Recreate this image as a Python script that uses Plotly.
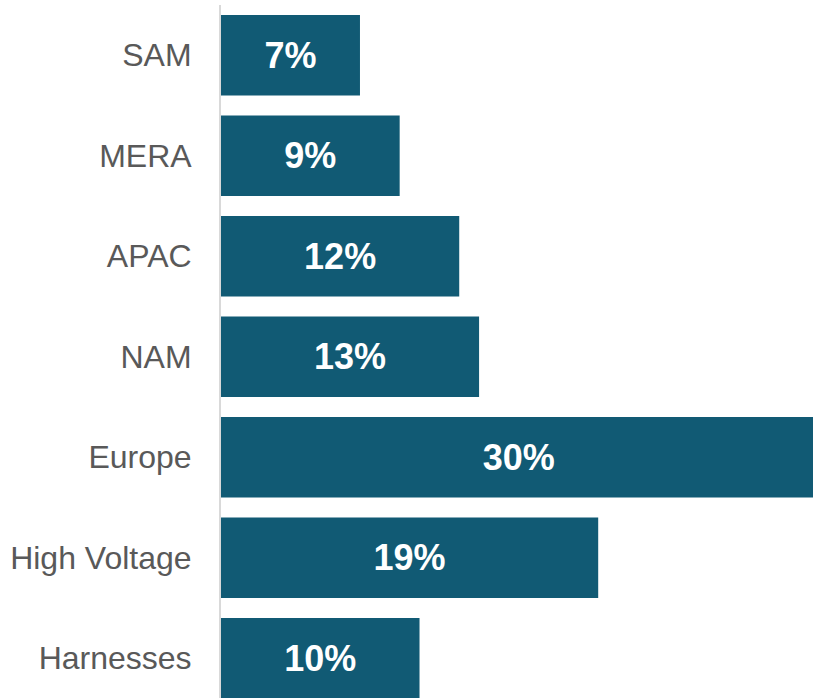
import plotly.graph_objects as go

categories = ["SAM", "MERA", "APAC", "NAM", "Europe", "High Voltage", "Harnesses"]
values = [7, 9, 12, 13, 30, 19, 10]
labels = [f"{v}%" for v in values]

fig = go.Figure(go.Bar(
    x=values, y=categories, orientation="h",
    marker=dict(color="#115A74", line=dict(width=0)),
    text=labels, textposition="inside", insidetextanchor="middle",
    textangle=0, constraintext="none", cliponaxis=True,
    textfont=dict(family="Liberation Sans, Arial", size=36, color="white", weight="bold"),
    width=0.8,
))

fig.update_layout(
    width=813, height=698,
    margin=dict(l=221, r=0, t=5, b=0, pad=0),
    plot_bgcolor="white", paper_bgcolor="white",
    showlegend=False,
    xaxis=dict(range=[0, 29.82], visible=False, showgrid=False, zeroline=False),
    yaxis=dict(
        range=[6.396, -0.5], showgrid=False, zeroline=False,
        showline=True, linecolor="#D9D9D9", linewidth=2,
        ticks="", ticklabelstandoff=21,
        tickfont=dict(family="Liberation Sans, Arial", size=32, color="#595959"),
    ),
)

fig.write_html("out.html")
